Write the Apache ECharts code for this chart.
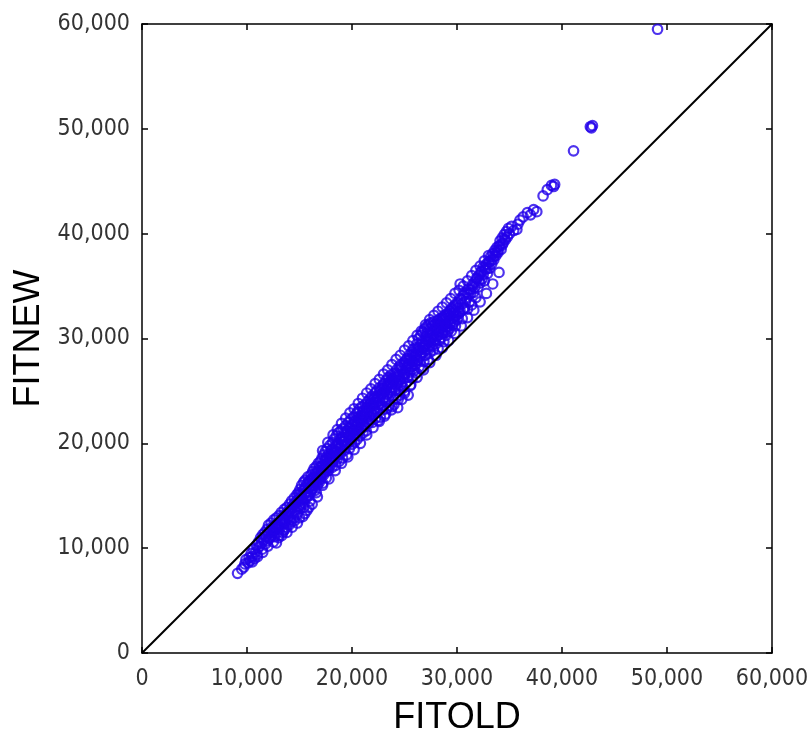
<!DOCTYPE html>
<html><head><meta charset="utf-8">
<script src="https://cdn.jsdelivr.net/npm/echarts@6/dist/echarts.min.js"></script>
<style>html,body{margin:0;padding:0;background:#fff}#c{width:811px;height:737px}</style>
</head><body><div id="c"></div>
<script>
const observations = [
[9100,7600],[9500,8000],[9800,8500],[9700,8200],[9900,8900],
[10100,8600],[10200,9100],[10300,8800],[10400,9500],[10500,9200],[10600,9900],[10700,9000],[10800,9600],[10900,10300],[10950,9400],
[11050,10000],[11100,10600],[11200,10200],[11300,11000],[11400,10500],[11450,9900],[11500,11300],[11600,10800],[11700,11500],[11750,10400],[11800,11100],[11900,11800],[11950,10700],
[12000,11400],[12050,12200],[12100,10900],[12200,11700],[12300,12400],[12350,11200],[12400,12000],[12500,11600],[12550,12700],[12600,11100],[12700,12200],[12750,11900],[12800,12900],[12900,11500],[12950,12400],
[13000,12100],[13050,13100],[13100,11800],[13200,12600],[13250,13400],[13300,12300],[13400,11500],[13400,13000],[13500,12800],[13550,13700],[13600,12400],[13700,13300],[13750,12000],[13800,13900],[13900,12900],[13950,13500],
[14000,13100],[14050,14200],[14100,12700],[14200,13700],[14250,14500],[14300,13300],[14400,14100],[14450,12900],[14500,14800],[14550,13600],[14600,14300],[14700,13900],[14750,15100],[14800,13400],[14850,14600],[14900,15300],[14950,14000],
[15000,14500],[15050,15600],[15100,13900],[15150,15000],[15200,16000],[15300,14700],[15350,15500],[15400,16300],[15450,14300],[15500,15200],[15550,16500],[15600,15800],[15650,14800],[15700,16100],[15750,15400],[15800,16800],[15850,15000],[15900,16400],[15950,15700],
[16000,16200],[16050,15300],[16100,17000],[16150,16600],[16200,15700],[16250,17300],[16300,16000],[16350,16800],[16400,17600],[16450,15500],[16500,17100],[16550,16300],[16600,17800],[16650,16700],[16700,14900],[16700,16000],[16750,17400],[16800,18100],[16850,16500],[16900,17700],[16950,17000],
[17000,18300],[17050,16800],[17100,17500],[17150,18600],[17200,16200],[17250,17900],[17300,18900],[17350,17200],[17400,18400],[17450,19200],[17500,17700],[17550,16700],[17600,18700],[17650,19500],[17700,18100],[17750,17400],[17800,19000],[17850,18500],[17900,19800],[17950,17900],
[18000,18800],[18050,19400],[18100,17700],[18150,20100],[18200,18300],[18250,19100],[18300,20400],[18350,18700],[18400,19700],[18450,17900],[18500,20700],[18550,19200],[18600,18500],[18650,20000],[18700,21000],[18750,19500],[18800,18300],[18850,20400],[18900,19000],[18950,21200],
[19000,19800],[19050,20600],[19100,18600],[19150,21400],[19200,20200],[19250,19300],[19300,21000],[19350,19900],[19400,21700],[19450,20500],[19500,18900],[19550,21200],[19600,20000],[19650,22000],[19700,20800],[19750,19500],[19800,21500],[19850,20300],[19900,22300],[19950,21000],
[20000,19900],[20050,21800],[20100,20600],[20150,22500],[20200,21300],[20250,20100],[20300,22100],[20350,20900],[20400,22800],[20450,21600],[20500,20400],[20550,23000],[20600,22300],[20650,21100],[20700,23300],[20750,20700],[20800,22000],[20850,22700],[20900,21400],[20950,23500],
[21000,22200],[21050,21000],[21100,23100],[21150,22600],[21200,21600],[21250,23700],[21300,22400],[21350,21200],[21400,23400],[21450,22900],[21500,24000],[21550,21900],[21600,23200],[21650,22600],[21700,24200],[21750,23800],[21800,22200],[21850,23000],[21900,24500],[21950,22000],
[22000,23600],[22050,22700],[22100,24300],[22150,23300],[22200,24800],[22250,22400],[22300,23900],[22350,25000],[22400,23000],[22450,24500],[22500,22200],[22550,23700],[22600,25300],[22650,24100],[22700,22500],[22750,25100],[22800,23600],[22850,24700],[22900,25500],[22950,23200],
[23000,24300],[23050,25700],[23100,22600],[23150,25000],[23200,24000],[23250,26000],[23300,23300],[23350,24700],[23400,25500],[23450,26300],[23500,24200],[23550,23600],[23600,25800],[23650,24900],[23700,26500],[23750,23200],[23800,25300],[23850,26100],[23900,24500],[23950,25900],
[24000,23700],[24050,26700],[24100,25100],[24150,26300],[24200,24300],[24250,27000],[24300,25700],[24350,23400],[24400,26500],[24450,25000],[24500,27300],[24550,24600],[24600,26100],[24650,27500],[24700,25500],[24750,24200],[24800,26900],[24850,26300],[24900,25300],[24950,27700],
[25000,24800],[25050,26600],[25100,27900],[25150,25800],[25200,27200],[25250,28100],[25300,26300],[25350,24600],[25400,27600],[25450,28400],[25500,26800],[25550,25500],[25600,28000],[25650,27300],[25700,28700],[25750,26200],[25800,27800],[25850,29000],[25900,26900],[25950,28300],
[26000,27500],[26050,29100],[26100,28400],[26150,26700],[26200,29500],[26250,27900],[26300,28800],[26350,30000],[26400,27300],[26450,29200],[26500,28300],[26550,30300],[26600,27100],[26650,29700],[26700,28700],[26750,30600],[26800,29100],[26850,27800],[26900,30900],[26950,29500],
[27000,28400],[27050,30200],[27100,31100],[27150,29000],[27200,30600],[27250,28000],[27300,31300],[27350,29700],[27400,30900],[27450,28700],[27500,31500],[27550,30000],[27600,29300],[27650,31200],[27700,30400],[27750,28900],[27800,31600],[27850,29900],[27900,30800],[27950,31400],
[28000,29500],[28050,31000],[28100,30200],[28150,31700],[28200,29000],[28250,30600],[28300,31300],[28350,29800],[28400,31900],[28450,30900],[28500,30100],[28550,31600],[28600,32000],[28650,30500],[28700,31200],[28750,29700],[28800,32200],[28850,30800],[28900,31500],[28950,30300],
[29000,32000],[29050,31100],[29100,30600],[29150,32300],[29200,31700],[29250,30900],[29300,32600],[29350,31400],[29400,32100],[29450,30700],[29500,32800],[29550,31900],[29600,31300],[29650,32400],[29700,33000],[29750,31600],[29800,32700],[29850,31200],[29900,33200],[29950,32200],
[30000,31800],[30100,33400],[30200,32500],[30300,32600],[30300,35200],[30400,33700],[30500,31900],[30600,34100],[30700,32900],[30800,33500],[30900,34400],
[31000,32800],[31100,34200],[31200,33500],[31300,34700],[31400,33200],[31500,35000],[31600,34400],[31700,35400],[31800,33900],[31900,35700],
[32000,34900],[32100,36000],[32200,35300],[32300,36400],[32400,35700],[32500,36800],[32600,35500],[32700,36600],[32800,37100],[32900,36200],
[33000,37300],[33100,36700],[33200,37800],[33300,37100],[33400,38100],[33500,37500],[33600,38400],[33700,37900],[33800,38700],[33900,38200],
[34000,38800],[34100,39300],[34200,38500],[34300,39600],[34400,39100],[34500,39900],[34600,39400],[34700,40200],[34800,39700],[34900,40500],
[35000,40000],[35200,40700],[35400,40300],[35700,40400],[35800,40900],[36000,41300],
[36300,41600],[36700,42000],[37000,41800],[37300,42300],[37600,42100],[38200,43600],[38600,44200],[39000,44600],[39300,44700],[39200,44500],
[41100,47900],[42700,50200],[42900,50300],[42800,50100],[49100,59500]
];
// further observations along the upper edge, lower edge and inside the dense band
const upperEdge = [
[17200,19300],[17700,20100],[18200,20800],[18600,21300],[19000,21900],[19400,22400],[19800,22900],[20200,23300],[20600,23800],[21000,24300],
[21400,24800],[21800,25200],[22200,25700],[22600,26100],[23000,26600],[23400,27000],[23800,27500],[24200,28000],[24600,28400],[25000,28900],
[25400,29300],[25800,29800],[26200,30300],[26600,30700],[27000,31300],[27400,31800],[27800,32200],[28200,32600],[28600,33000],[29000,33400],
[29400,33800],[29800,34300],[30200,34600],[30600,35000],[31000,35500],[31400,36000],[31800,36500],[32200,36900],[32600,37400],[33000,37900]
];
const lowerEdge = [
[13000,11200],[13600,11800],[14200,12500],[14800,13200],[15400,13900],[16000,14500],[16600,15300],[17200,16000],[17800,16600],[18400,17400],
[19000,18100],[19600,18700],[20200,19400],[20800,20000],[21400,20800],[22000,21500],[22600,22100],[23200,22800],[23800,23500],[24400,24200],
[25000,25000],[25600,25600],[26200,26300],[26800,27000],[27400,27700],[28000,28400],[28600,29100],[29200,29800],[29800,30500],[30400,31200],
[31000,32000],[31600,32700],[32200,33500],[32800,34300],[33400,35200],[34000,36300]
];
const lowerLeftSpread = [
[10500,8700],[11000,9200],[11500,9600],[12000,10200],[12500,10600],[13000,11000],[13500,11700],[14000,12200],[14500,12600],[15000,12900],
[15500,13300],[15700,13600],[16200,14200],[12800,10500],[13300,11200],[13800,11500],[14300,12000],[14800,12400],[15300,13000],[15900,13900]
];
const bandInterior = [
[12200,11000],[12600,11800],[13300,12700],[13800,13300],[14300,13900],[14700,14500],[15200,14800],[15600,15300],[16100,15900],[16500,16500],
[16900,16300],[17300,17000],[17700,17600],[18100,18200],[18500,18900],[18900,19600],[19300,20200],[19700,20600],[20100,21200],[20500,21900],
[20900,22500],[21300,23000],[21700,23500],[22100,23900],[22500,24300],[22900,24800],[23300,25300],[23700,25600],[24100,26000],[24500,26400],
[24900,26700],[25300,27400],[25700,27900],[26100,28500],[26500,28900],[26900,29300],[27300,29800],[27700,30100],[28100,30700],[28500,31300],
[28900,31900],[29300,32300],[29700,32500],[30100,32900],[30500,33300],[30900,33800],[31300,34300],[31700,34900],[32100,35500],[32500,36100],
[32900,36700],[33300,37500],[33700,38200],[34100,38900],[34500,39500]
];
const bandUpperCore = [
[12400,11500],[12900,12100],[13500,12600],[14000,13600],[14500,14200],[15000,15100],[15500,15700],[15800,16200],[16300,16600],[16700,17200],
[17100,17800],[17500,18300],[17900,18700],[18300,19300],[18700,19800],[19100,20300],[19500,20900],[19900,21400],[20300,21900],[20700,22300],
[21100,22800],[21500,23300],[21900,23800],[22300,24200],[22700,24700],[23100,25200],[23500,25700],[23900,26100],[24300,26600],[24700,27100],
[25100,27500],[25500,28000],[25900,28500],[26300,29000],[26700,29500],[27100,29900],[27500,30400],[27900,30900],[28300,31400],[28700,31900],
[29100,32400],[29500,32900],[29900,33300],[30300,33800],[30700,34300],[31100,34700],[31500,35200],[31900,35800],[32300,36300],[32700,36800],
[33100,37300],[33500,37800],[33900,38400],[34300,38900]
];
const bandLowerCore = [
[15300,14600],[15800,15100],[16200,15600],[16600,16200],[17000,16600],[17400,17300],[17800,17800],[18200,18400],[18600,18800],[19000,19400],
[19400,19900],[19800,20400],[20200,20900],[20600,21400],[21000,21800],[21400,22300],[21800,22800],[22200,23300],[22600,23700],[23000,24200],
[23400,24700],[23800,25100],[24200,25600],[24600,26000],[25000,26500],[25400,27000],[25800,27400],[26200,27900],[26600,28400],[27000,28900],
[27400,29300],[27800,29800],[28200,30300],[28600,30700],[29000,31200],[29400,31600],[29800,32100],[30200,32400],[30600,32800]
];
const diagonal = [[0,0],[60000,60000]];
const axisTicks = [0,10000,20000,30000,40000,50000,60000];

const allPoints = observations.concat(upperEdge, lowerEdge, lowerLeftSpread, bandInterior, bandUpperCore, bandLowerCore);
const fmt = v => Number(v).toLocaleString('en-US');
const labelFont = {fontFamily:'"DejaVu Sans Condensed", "DejaVu Sans", sans-serif', fontSize:23, color:'#333'};
const lineStyle = {color:'#000', width:1.5};
const base = {min:axisTicks[0], max:axisTicks[axisTicks.length-1], interval:axisTicks[1]-axisTicks[0], splitLine:{show:false},
  axisLine:{show:true, onZero:false, lineStyle}, axisTick:{show:true, inside:true, length:6, lineStyle}};
const chart = echarts.init(document.getElementById('c'), null, {renderer:'canvas'});
chart.setOption({
  animation:false,
  backgroundColor:'#fff',
  grid:{left:142, right:39, top:24, bottom:84, containLabel:false, outerBoundsMode:'none'},
  xAxis:[
    Object.assign({}, base, {type:'value', position:'bottom', name:'FITOLD', nameLocation:'middle', nameGap:47,
      nameTextStyle:{fontFamily:'"Liberation Sans", Arial, sans-serif', fontSize:36, color:'#000'},
      axisLabel:Object.assign({margin:15, formatter:fmt}, labelFont)}),
    Object.assign({}, base, {type:'value', position:'top', axisLabel:{show:false}})
  ],
  yAxis:[
    Object.assign({}, base, {type:'value', position:'left', name:'FITNEW', nameLocation:'middle', nameGap:90,
      nameTextStyle:{fontFamily:'"Liberation Sans", Arial, sans-serif', fontSize:36, color:'#000'},
      axisLabel:Object.assign({margin:12, formatter:fmt}, labelFont)}),
    Object.assign({}, base, {type:'value', position:'right', axisLabel:{show:false}})
  ],
  series:[
    {type:'scatter', data:allPoints, symbol:'circle', symbolSize:9.5, large:false,
     itemStyle:{color:'rgba(0,0,0,0)', borderColor:'#2200ea', borderWidth:2.2}, z:2},
    {type:'line', data:diagonal, symbol:'none', lineStyle:{color:'#000', width:2}, z:3}
  ]
});
</script></body></html>
